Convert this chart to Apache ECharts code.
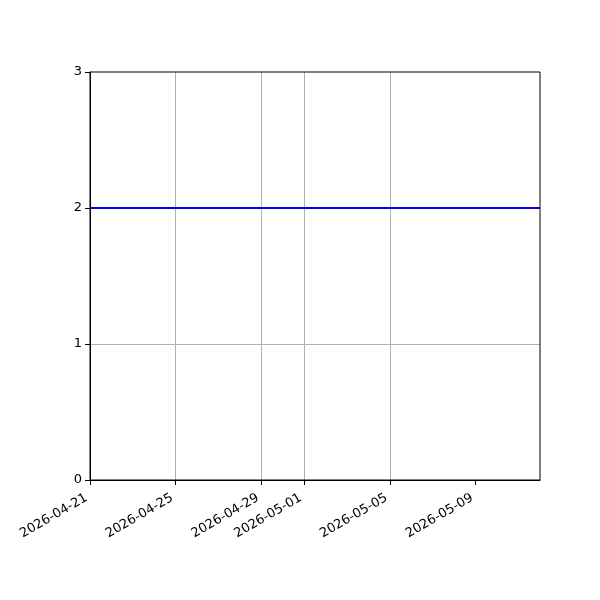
<!DOCTYPE html>
<html><head><meta charset="utf-8">
<script src="https://cdn.jsdelivr.net/npm/echarts@6/dist/echarts.min.js"></script>
<style>html,body{margin:0;padding:0;background:#fff}#c{width:600px;height:600px}</style>
</head><body><div id="c"></div>
<script>
const dates = ['2026-04-21','2026-04-22','2026-04-23','2026-04-24','2026-04-25','2026-04-26','2026-04-27','2026-04-28','2026-04-29','2026-04-30','2026-05-01','2026-05-02','2026-05-03','2026-05-04','2026-05-05','2026-05-06','2026-05-07','2026-05-08','2026-05-09','2026-05-10','2026-05-11','2026-05-12'];
const values = [2,2,2,2,2,2,2,2,2,2,2,2,2,2,2,2,2,2,2,2,2,2];
const xTickLabels = ['2026-04-21','2026-04-25','2026-04-29','2026-05-01','2026-05-05','2026-05-09'];
const xMin = '2026-04-21', xMax = '2026-05-12';
const yTicks = [0,1,2,3];

function ts(s){const p=s.split('-').map(Number);return Date.UTC(p[0],p[1]-1,p[2]);}
function fmt(v){const d=new Date(v);const p=n=>String(n).padStart(2,'0');return d.getUTCFullYear()+'-'+p(d.getUTCMonth()+1)+'-'+p(d.getUTCDate());}
const tickVals = xTickLabels.map(ts);
const font = 'DejaVu Sans';
const chart = echarts.init(document.getElementById('c'), null, {renderer:'canvas'});
chart.setOption({
  animation:false,
  backgroundColor:'#fff',
  grid:{left:90,right:60,top:72,bottom:120,show:true,borderColor:'#000',borderWidth:1,backgroundColor:'transparent',z:10},
  xAxis:{
    type:'value', min:ts(xMin), max:ts(xMax), scale:true,
    axisLine:{show:true,lineStyle:{color:'#000',width:1}},
    axisTick:{show:true,length:5,lineStyle:{color:'#000',width:1},customValues:tickVals},
    axisLabel:{customValues:tickVals,formatter:v=>fmt(v),rotate:30,color:'#000',fontFamily:font,fontSize:13,margin:15,padding:[0,4,0,0],hideOverlap:false},
    splitLine:{show:true,showMinLine:false,showMaxLine:false,lineStyle:{color:'#b0b0b0',width:1}}
  },
  yAxis:{
    type:'value', min:yTicks[0], max:yTicks[yTicks.length-1], interval:1,
    axisLine:{show:true,lineStyle:{color:'#000',width:1}},
    axisTick:{show:true,length:5,lineStyle:{color:'#000',width:1}},
    axisLabel:{color:'#000',fontFamily:font,fontSize:13,margin:8},
    splitLine:{show:true,showMinLine:false,showMaxLine:false,lineStyle:{color:'#b0b0b0',width:1}}
  },
  series:[{
    type:'line', data:dates.map((d,i)=>[ts(d),values[i]]),
    showSymbol:false, symbol:'none',
    lineStyle:{color:'#0000ff',width:2}, itemStyle:{color:'#0000ff'}
  }]
});
</script></body></html>
